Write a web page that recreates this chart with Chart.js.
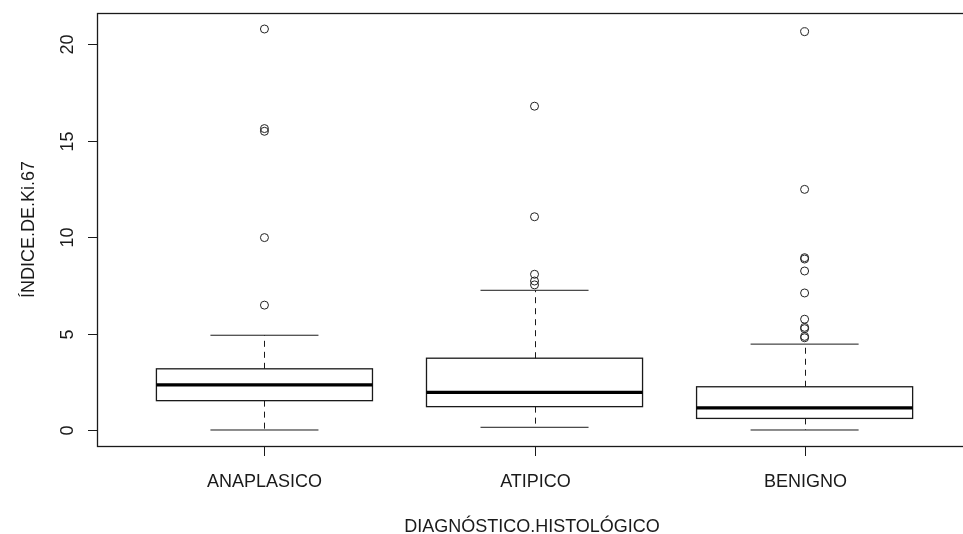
<!DOCTYPE html>
<html>
<head>
<meta charset="utf-8">
<script src="https://cdn.jsdelivr.net/npm/chart.js@4.4.0/dist/chart.umd.min.js"></script>
<style>
  body { margin: 0; background: #fff; }
  #wrap { width: 963px; height: 534px; }
</style>
</head>
<body>
<div id="wrap"><canvas id="boxChart" width="963" height="534"></canvas></div>
<script>
// values
var categories = ['ANAPLASICO', 'ATIPICO', 'BENIGNO'];
var whiskerLow = [0, 0.14, 0];
var q1 = [1.52, 1.21, 0.60];
var median = [2.34, 1.95, 1.15];
var q3 = [3.17, 3.72, 2.24];
var whiskerHigh = [4.91, 7.24, 4.45];
var outliersAnaplasico = [6.47, 9.97, 15.48, 15.62, 20.78];
var outliersAtipico = [7.52, 7.72, 8.07, 11.05, 16.78];
var outliersBenigno = [4.78, 4.85, 5.25, 5.32, 5.74, 7.10, 8.24, 8.86, 8.93, 12.47, 20.64];
var yTicks = [0, 5, 10, 15, 20];
var xTitle = 'DIAGNÓSTICO.HISTOLÓGICO';
var yTitle = 'ÍNDICE.DE.Ki.67';

var outlierLists = [outliersAnaplasico, outliersAtipico, outliersBenigno];
var outlierPoints = [];
outlierLists.forEach(function(list, i) {
    list.forEach(function(v) {
        outlierPoints.push({ x: i + 1, y: v });
    });
});

var FONT = '18px "Liberation Sans", Arial, sans-serif';
var INK = '#1a1a1a';

// boxes, whiskers, frame, axes and labels (R base graphics look)
var boxPlugin = {
    id: 'boxPlugin',
    beforeDatasetsDraw: function(chart) {
        var ctx = chart.ctx;
        var xs = chart.scales.x, ys = chart.scales.y;
        var area = chart.chartArea;
        ctx.save();
        ctx.strokeStyle = INK;

        for (var i = 0; i < categories.length; i++) {
            var cx = Math.round(xs.getPixelForValue(i + 1)) + 0.5;
            var bl = xs.getPixelForValue(i + 1 - 0.4);
            var br = xs.getPixelForValue(i + 1 + 0.4);
            var cl = xs.getPixelForValue(i + 1 - 0.2);
            var cr = xs.getPixelForValue(i + 1 + 0.2);
            var yLo = ys.getPixelForValue(whiskerLow[i]);
            var yQ1 = ys.getPixelForValue(q1[i]);
            var yMed = ys.getPixelForValue(median[i]);
            var yQ3 = ys.getPixelForValue(q3[i]);
            var yHi = ys.getPixelForValue(whiskerHigh[i]);

            // dashed whiskers
            ctx.lineWidth = 1;
            ctx.setLineDash([6, 5]);
            ctx.beginPath();
            ctx.moveTo(cx, yQ3); ctx.lineTo(cx, yHi);
            ctx.moveTo(cx, yQ1); ctx.lineTo(cx, yLo);
            ctx.stroke();
            ctx.setLineDash([]);

            // caps
            ctx.beginPath();
            ctx.moveTo(cl, yHi); ctx.lineTo(cr, yHi);
            ctx.moveTo(cl, yLo); ctx.lineTo(cr, yLo);
            ctx.stroke();

            // box
            ctx.lineWidth = 1.3;
            ctx.strokeRect(bl, yQ3, br - bl, yQ1 - yQ3);

            // median
            ctx.lineWidth = 3.2;
            ctx.strokeStyle = '#000';
            ctx.beginPath();
            ctx.moveTo(bl, yMed); ctx.lineTo(br, yMed);
            ctx.stroke();
            ctx.strokeStyle = INK;
        }
        ctx.restore();
    },
    afterDraw: function(chart) {
        var ctx = chart.ctx;
        var xs = chart.scales.x, ys = chart.scales.y;
        var area = chart.chartArea;
        ctx.save();
        ctx.strokeStyle = INK;
        ctx.fillStyle = INK;
        ctx.lineWidth = 1.3;

        // plot frame
        ctx.strokeRect(area.left + 0.5, area.top + 0.5, area.right - area.left + 10, area.bottom - area.top);

        // y ticks + rotated labels
        ctx.lineWidth = 1;
        ctx.font = FONT;
        ctx.textAlign = 'center';
        ctx.textBaseline = 'alphabetic';
        yTicks.forEach(function(t) {
            var y = Math.round(ys.getPixelForValue(t)) + 0.5;
            ctx.beginPath();
            ctx.moveTo(area.left - 9, y); ctx.lineTo(area.left, y);
            ctx.stroke();
            ctx.save();
            ctx.translate(72.5, y);
            ctx.rotate(-Math.PI / 2);
            ctx.fillText(String(t), 0, 0);
            ctx.restore();
        });

        // x ticks + labels
        categories.forEach(function(c, i) {
            var x = Math.round(xs.getPixelForValue(i + 1)) + 0.5;
            ctx.beginPath();
            ctx.moveTo(x, area.bottom); ctx.lineTo(x, area.bottom + 10);
            ctx.stroke();
            ctx.fillText(c, x, 487);
        });

        // axis titles
        ctx.fillText(xTitle, (area.left + 967) / 2, 531.5);
        ctx.save();
        ctx.translate(33.5, (area.top + area.bottom) / 2);
        ctx.rotate(-Math.PI / 2);
        ctx.fillText(yTitle, 0, 0);
        ctx.restore();

        ctx.restore();
    }
};

function createBoxChart() {
    var ctx = document.getElementById('boxChart').getContext('2d');
    var chart = new Chart(ctx, {
        type: 'scatter',
        data: {
            datasets: [{
                label: 'outliers',
                data: outlierPoints,
                pointStyle: 'circle',
                pointRadius: 4,
                pointBorderWidth: 1,
                borderColor: '#222',
                backgroundColor: 'rgba(0,0,0,0)'
            }]
        },
        options: {
            responsive: false,
            animation: false,
            layout: { padding: { left: 97, top: 13, right: 0, bottom: 88 } },
            plugins: { legend: { display: false }, tooltip: { enabled: false } },
            scales: {
                x: { type: 'linear', min: 0.38, max: 3.568, display: false },
                y: { type: 'linear', min: -0.83, max: 21.61, display: false }
            }
        },
        plugins: [boxPlugin]
    });
    return chart;
}

createBoxChart();
</script>
</body>
</html>
